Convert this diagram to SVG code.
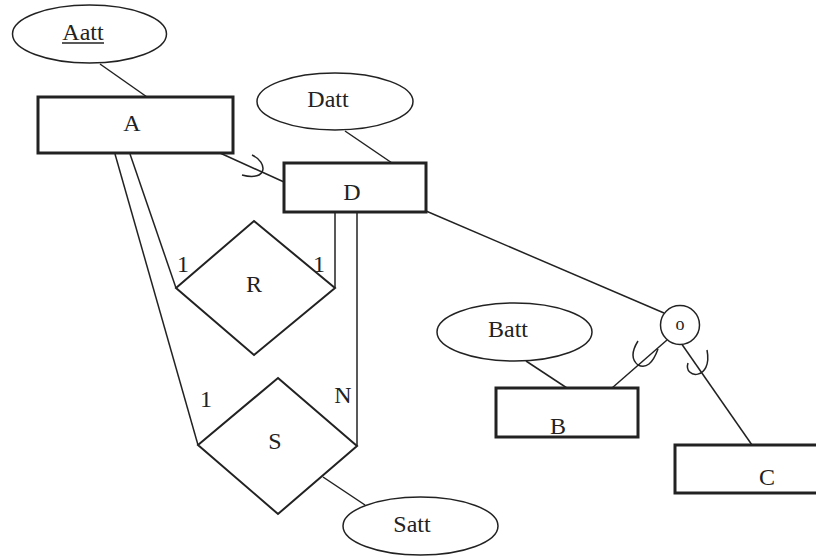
<svg xmlns="http://www.w3.org/2000/svg" width="816" height="558" viewBox="0 0 816 558">
<style>
  text { font-family: "Liberation Serif", "Times New Roman", serif; font-size: 24px; fill: #222; text-anchor: middle; }
  .ent { fill: #fff; stroke: #222; stroke-width: 3; }
  .att { fill: #fff; stroke: #222; stroke-width: 1.5; }
  .rel { fill: #fff; stroke: #222; stroke-width: 2; }
  .ln { fill: none; stroke: #222; stroke-width: 1.5; }
  .card { font-size: 24px; }
</style>
<rect width="816" height="558" fill="#fff"/>
<g id="connectors">
  <line class="ln" x1="100" y1="64" x2="147" y2="97"/>
  <line class="ln" x1="345" y1="131" x2="392" y2="163"/>
  <line class="ln" x1="220" y1="153" x2="284" y2="182"/>
  <path class="ln" d="M 252 155 C 268 162, 268 182, 242 175"/>
  <line class="ln" x1="130" y1="154" x2="176" y2="288"/>
  <line class="ln" x1="115" y1="154" x2="198" y2="445"/>
  <line class="ln" x1="335" y1="212" x2="335" y2="288"/>
  <line class="ln" x1="357" y1="212" x2="357" y2="446"/>
  <line class="ln" x1="323" y1="477" x2="365" y2="505"/>
  <line class="ln" x1="426" y1="211" x2="664" y2="313"/>
  <line class="ln" x1="667" y1="340" x2="612" y2="388"/>
  <path class="ln" d="M 638 341 Q 628 357 638 365 Q 650 371 658 349"/>
  <line class="ln" x1="681" y1="343" x2="752" y2="445"/>
  <path class="ln" d="M 688 363 C 683 379, 713 381, 707 350"/>
  <line class="ln" x1="526" y1="361" x2="573" y2="392"/>
</g>
<g id="Aatt">
  <ellipse class="att" cx="89.5" cy="34" rx="77" ry="29"/>
  <text x="83" y="40">Aatt</text>
  <line x1="62" y1="43" x2="104" y2="43" stroke="#222" stroke-width="1.3"/>
</g>
<g id="A">
  <rect class="ent" x="38" y="97" width="195" height="56"/>
  <text x="132" y="131">A</text>
</g>
<g id="Datt">
  <ellipse class="att" cx="335" cy="101.5" rx="78" ry="28.5"/>
  <text x="328" y="107">Datt</text>
</g>
<g id="D">
  <rect class="ent" x="284" y="163" width="142" height="49"/>
  <text x="352" y="200">D</text>
</g>
<g id="R">
  <polygon class="rel" points="254,221 335,288 254,355 176,288"/>
  <text x="254" y="292">R</text>
  <text class="card" x="183" y="272">1</text>
  <text class="card" x="319" y="272">1</text>
</g>
<g id="S">
  <polygon class="rel" points="278,378 357,446 278,514 198,445"/>
  <text x="275" y="449">S</text>
  <text class="card" x="206" y="407">1</text>
  <text class="card" x="343" y="403">N</text>
</g>
<g id="Satt">
  <ellipse class="att" cx="420.5" cy="526" rx="77.5" ry="29"/>
  <text x="412" y="532">Satt</text>
</g>
<g id="o">
  <circle class="att" cx="680" cy="325" r="19.5"/>
  <text x="680" y="330" style="font-size:18px">o</text>
</g>
<g id="Batt">
  <ellipse class="att" cx="514.5" cy="332" rx="77.5" ry="29"/>
  <text x="508" y="337">Batt</text>
</g>
<g id="B">
  <rect class="ent" x="496" y="388" width="142" height="49"/>
  <text x="558" y="434">B</text>
</g>
<g id="C">
  <rect class="ent" x="675" y="445" width="160" height="48"/>
  <text x="767" y="485">C</text>
</g>
</svg>
